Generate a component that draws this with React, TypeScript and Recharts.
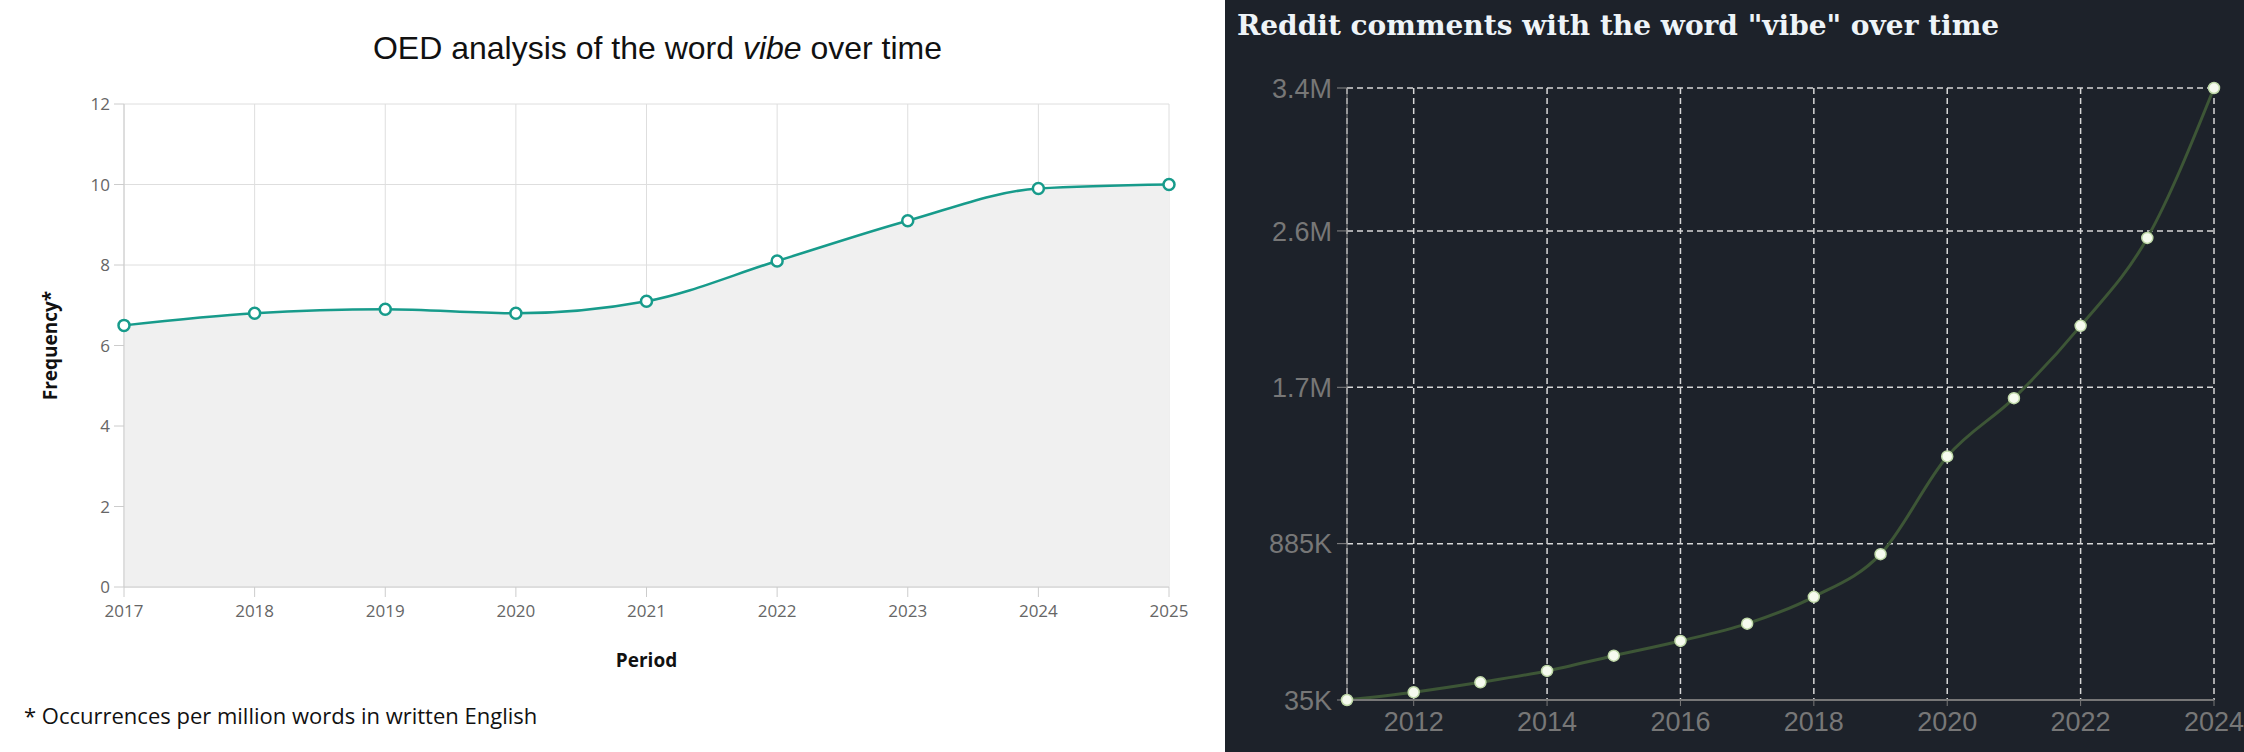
import {
  Area,
  AreaChart,
  CartesianGrid,
  Line,
  LineChart,
  XAxis,
  YAxis,
} from "recharts";

// OED panel: frequency per million words
const oedYears = [2017, 2018, 2019, 2020, 2021, 2022, 2023, 2024, 2025];
const oedFrequency = [6.5, 6.8, 6.9, 6.8, 7.1, 8.1, 9.1, 9.9, 10.0];
const oedYTicks = [0, 2, 4, 6, 8, 10, 12];

// Reddit panel: comments containing "vibe"
const redditYears = [2011, 2012, 2013, 2014, 2015, 2016, 2017, 2018, 2019, 2020, 2021, 2022, 2023, 2024];
const redditComments = [
  35000, 77000, 131000, 193000, 276000, 356000, 450000, 596000, 828000, 1359000, 1676000, 2069000,
  2547000, 3362000,
];
const redditXTicks = [2012, 2014, 2016, 2018, 2020, 2022, 2024];
const redditYTicks = [35000, 885000, 1735000, 2585000, 3362000];
const redditYTickLabels = ["35K", "885K", "1.7M", "2.6M", "3.4M"];

const oedData = oedYears.map((year, i) => ({ year, value: oedFrequency[i] }));
const redditData = redditYears.map((year, i) => ({ year, count: redditComments[i] }));

const TEAL = "#179b8b";
const SANS = "'Open Sans', sans-serif";
const HELV = "'Liberation Sans', Arial, sans-serif";

function OedChart() {
  return (
    <div style={{ position: "absolute", left: 0, top: 0, width: 1225, height: 752, background: "white" }}>
      <div
        style={{
          position: "absolute",
          left: 0,
          width: 1315,
          top: 30,
          textAlign: "center",
          fontFamily: HELV,
          fontSize: 32,
          color: "#111",
        }}
      >
        OED analysis of the word <i>vibe</i> over time
      </div>
      <AreaChart
        width={1225}
        height={752}
        data={oedData}
        margin={{ top: 104, right: 56, bottom: 75, left: 0 }}
      >
        <CartesianGrid stroke="#dedede" />
        <XAxis
          dataKey="year"
          type="number"
          domain={[2017, 2025]}
          ticks={oedYears}
          height={90}
          stroke="#cccccc"
          tickSize={10}
          tickMargin={8}
          tick={{ fill: "#666", fontSize: 17, fontFamily: SANS }}
          label={{
            value: "Period",
            position: "insideBottom",
            offset: 10,
            style: { fill: "#111", fontSize: 19, fontWeight: 700, fontFamily: SANS },
          }}
        />
        <YAxis
          domain={[0, 12]}
          ticks={oedYTicks}
          width={124}
          stroke="#cccccc"
          tickSize={10}
          tickMargin={4}
          tick={{ fill: "#666", fontSize: 17, fontFamily: SANS }}
          label={{
            value: "Frequency*",
            angle: -90,
            position: "insideLeft",
            offset: 50,
            style: { fill: "#111", fontSize: 19, fontWeight: 700, fontFamily: SANS, textAnchor: "middle" },
          }}
        />
        <Area
          type="monotone"
          dataKey="value"
          stroke={TEAL}
          strokeWidth={2.5}
          fill="#f0f0f0"
          fillOpacity={1}
          dot={{ r: 5.5, fill: "white", stroke: TEAL, strokeWidth: 2.5 }}
          isAnimationActive={false}
        />
      </AreaChart>
      <div
        style={{
          position: "absolute",
          left: 24,
          top: 700,
          fontFamily: SANS,
          fontSize: 22,
          color: "#111",
        }}
      >
        * Occurrences per million words in written English
      </div>
    </div>
  );
}

function RedditChart() {
  return (
    <div
      style={{ position: "absolute", left: 1225, top: 0, width: 1019, height: 752, background: "#1d222a" }}
    >
      <div
        style={{
          position: "absolute",
          left: 12,
          top: 9,
          fontFamily: "'DejaVu Serif', 'Liberation Serif', serif",
          fontWeight: 700,
          fontSize: 28,
          color: "#eef4f8",
        }}
      >
        Reddit comments with the word "vibe" over time
      </div>
      <LineChart
        width={1019}
        height={752}
        data={redditData}
        margin={{ top: 88, right: 30, bottom: 2, left: 0 }}
      >
        <CartesianGrid stroke="#d8d8d8" strokeDasharray="6 4" strokeWidth={1.5} />
        <XAxis
          dataKey="year"
          type="number"
          domain={[2011, 2024]}
          ticks={redditXTicks}
          height={50}
          axisLine={{ stroke: "#777", strokeWidth: 2 }}
          tickLine={{ stroke: "#777" }}
          tickSize={6}
          tickMargin={6}
          tick={{ fill: "#777", fontSize: 27, fontFamily: HELV }}
        />
        <YAxis
          domain={[35000, 3362000]}
          ticks={redditYTicks}
          tickFormatter={(v: number) => redditYTickLabels[redditYTicks.indexOf(v)] ?? ""}
          width={122}
          axisLine={{ stroke: "#888" }}
          tickLine={{ stroke: "#888" }}
          tickSize={10}
          tickMargin={5}
          tick={{ fill: "#777", fontSize: 27, fontFamily: HELV }}
        />
        <Line
          type="monotone"
          dataKey="count"
          stroke="#3d5636"
          strokeWidth={3}
          dot={{ r: 5.5, fill: "#f6fbef", stroke: "#bfd8a8", strokeWidth: 1.5 }}
          isAnimationActive={false}
        />
      </LineChart>
    </div>
  );
}

export default function App() {
  return (
    <div style={{ position: "relative", width: 2244, height: 752, overflow: "hidden" }}>
      <style>{"body{margin:0}"}</style>
      <OedChart />
      <RedditChart />
    </div>
  );
}
